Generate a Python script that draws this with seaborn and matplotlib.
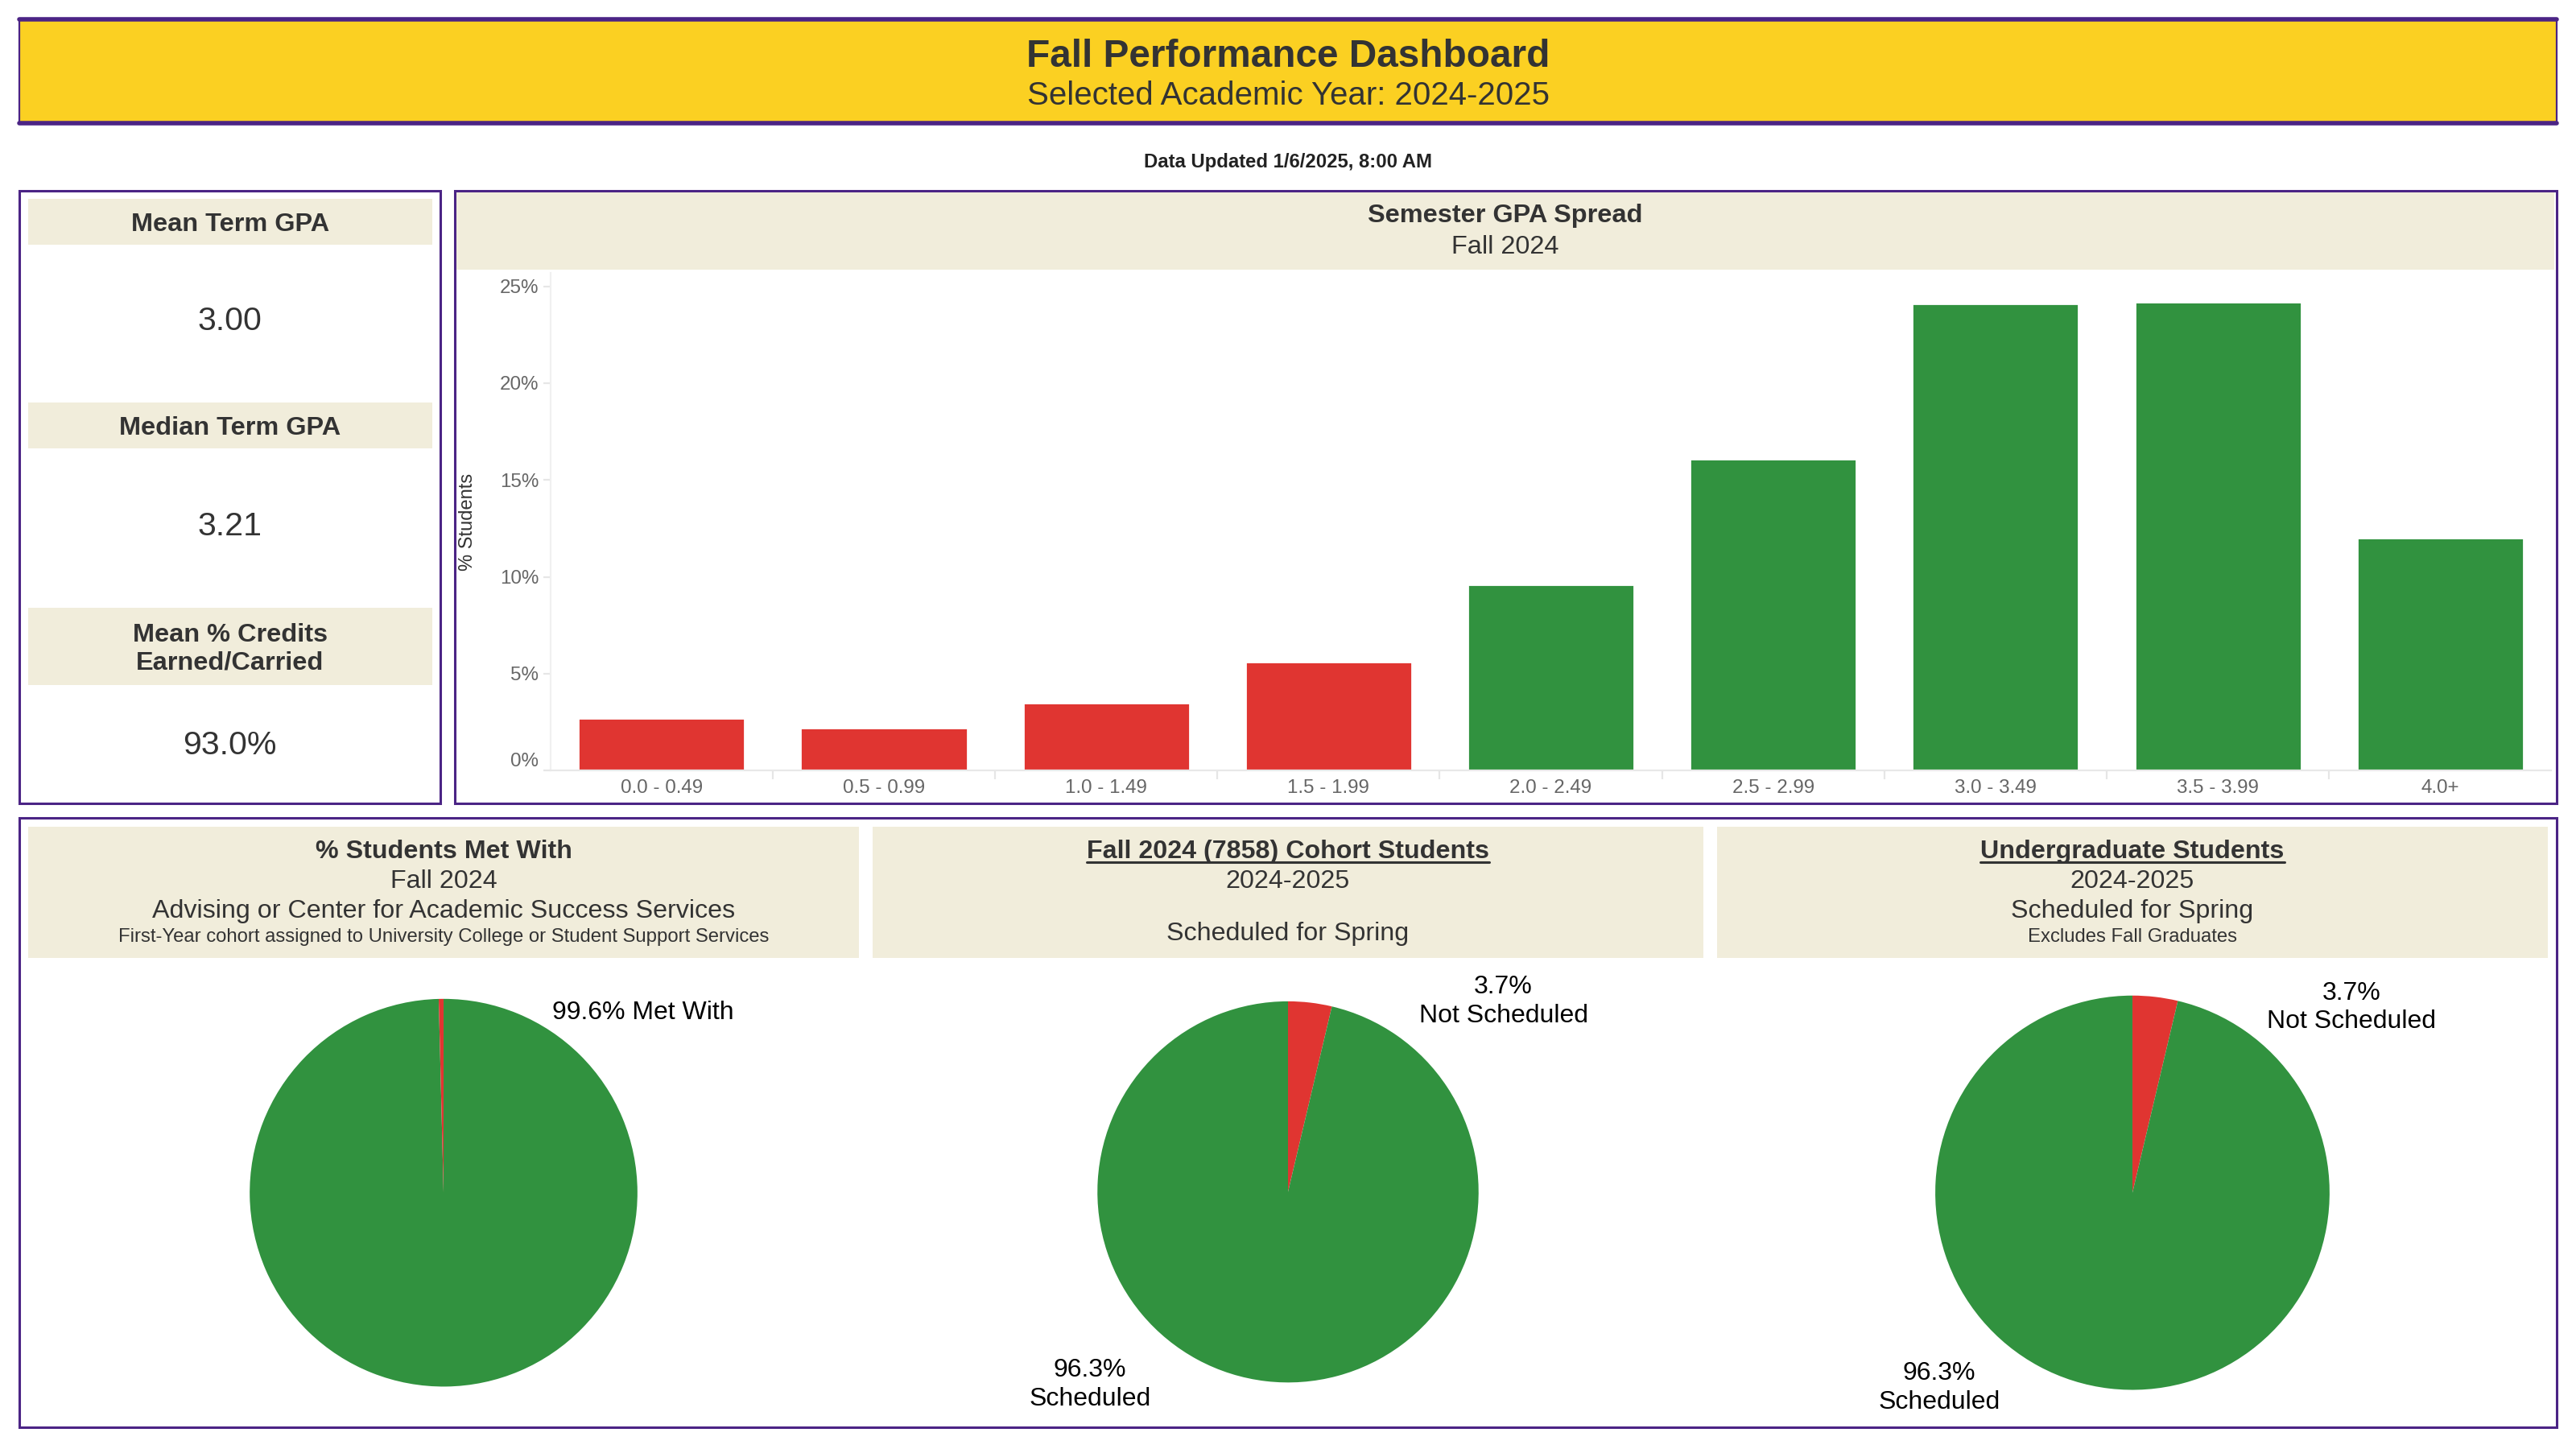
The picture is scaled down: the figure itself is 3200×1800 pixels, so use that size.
import numpy as np
import pandas as pd
import matplotlib
matplotlib.use("Agg")
import matplotlib.pyplot as plt
import seaborn as sns
from matplotlib.patches import Rectangle
from matplotlib.lines import Line2D

# --- data ---
gpa_ranges = ['0.0 - 0.49', '0.5 - 0.99', '1.0 - 1.49', '1.5 - 1.99', '2.0 - 2.49',
              '2.5 - 2.99', '3.0 - 3.49', '3.5 - 3.99', '4.0+']
pct_students = [2.7, 2.2, 3.5, 5.6, 9.6, 16.1, 24.1, 24.2, 12.0]
gpa_status = ['Below 2.0'] * 4 + ['2.0+'] * 5

kpi_labels = ['Mean Term GPA', 'Median Term GPA', 'Mean % Credits\nEarned/Carried']
kpi_values = ['3.00', '3.21', '93.0%']

met_with_pct = [99.6, 0.4]        # met with, not met with
cohort_sched_pct = [3.7, 96.3]    # not scheduled, scheduled
ugrad_sched_pct = [3.7, 96.3]     # not scheduled, scheduled

GREEN = '#31923F'
RED = '#E03531'
YELLOW = '#FBD022'
PURPLE = '#4B2485'
BEIGE = '#F1EDDB'
TXT = '#333333'
GRAY = '#666666'

sns.set_theme(style='white')
plt.rcParams['font.family'] = ['Liberation Sans', 'DejaVu Sans']

# layout is done in units of the reference at 1568 x 882
W, H = 1568, 882


def fig_rect(x0, y0, x1, y1):
    return [x0 / W, 1 - y1 / H, (x1 - x0) / W, (y1 - y0) / H]


fig = plt.figure(figsize=(16, 9), dpi=200)
fig.patch.set_facecolor('white')
bg = fig.add_axes([0, 0, 1, 1], zorder=0)
bg.set_xlim(0, W)
bg.set_ylim(H, 0)
bg.axis('off')


def box(x0, y0, x1, y1, fc='none', ec='none', lw=0):
    bg.add_patch(Rectangle((x0, y0), x1 - x0, y1 - y0, facecolor=fc,
                           edgecolor=ec, linewidth=lw))


def txt(x, y, s, size, bold=False, color=TXT, **kw):
    return bg.text(x, y + 1.5, s, fontsize=size, fontweight='bold' if bold else 'normal',
                   color=color, ha='center', va='center', **kw)


# header
box(12, 12, 1556, 75, fc=YELLOW, ec=PURPLE, lw=0.8)
bg.plot([12, 1556], [12, 12], color=PURPLE, lw=2)
bg.plot([12, 1556], [75, 75], color=PURPLE, lw=2)
txt(784, 33, 'Fall Performance Dashboard', 17.2, bold=True)
txt(784, 57, 'Selected Academic Year: 2024-2025', 14.5)
txt(784, 97, 'Data Updated 1/6/2025, 8:00 AM', 8.6, bold=True, color='#222222')

# KPI panel
box(12, 116, 268, 489, ec=PURPLE, lw=1.1)
bands = [(121, 149), (245, 273), (370, 417)]
value_y = [194, 319, 452]
for (b0, b1), lab, val, vy in zip(bands, kpi_labels, kpi_values, value_y):
    box(17, b0, 263, b1, fc=BEIGE)
    txt(140, (b0 + b1) / 2, lab, 11.7, bold=True, linespacing=1.2)
    txt(140, vy, val, 14.8)

# bar panel
box(277, 116, 1556, 489, ec=PURPLE, lw=1.1)
box(278, 117, 1555, 164, fc=BEIGE)
txt(916, 130, 'Semester GPA Spread', 11.7, bold=True)
txt(916, 149, 'Fall 2024', 11.7)

df = pd.DataFrame({'range': gpa_ranges, 'pct': pct_students, 'status': gpa_status})
ax = fig.add_axes(fig_rect(335, 166, 1553, 469), zorder=2)
ax.set_facecolor('none')
sns.barplot(data=df, x='range', y='pct', hue='status',
            palette={'Below 2.0': RED, '2.0+': GREEN}, dodge=False, width=0.75,
            saturation=1, legend=False, ax=ax)
ax.set_xlim(-0.5, len(gpa_ranges) - 0.5)
ax.set_ylim(0, 25.7)
ax.set_yticks([0, 5, 10, 15, 20, 25])
ax.set_yticklabels([f'{v}%' for v in [0, 5, 10, 15, 20, 25]])
ax.get_yticklabels()[0].set_verticalalignment('bottom')
ax.set_xticks(np.arange(0.5, len(gpa_ranges) - 0.5, 1), minor=True)
for side in ['top', 'right']:
    ax.spines[side].set_visible(False)
ax.spines['left'].set_color('#F0F0F0')
ax.spines['bottom'].set_color('#E8E8E8')
ax.spines['left'].set_linewidth(0.8)
ax.spines['bottom'].set_linewidth(0.8)
ax.tick_params(axis='y', length=3.2, width=0.8, color='#E6E6E6', labelsize=8.7,
               labelcolor=GRAY, pad=2, left=True)
ax.tick_params(axis='x', which='major', length=0, labelsize=8.7, labelcolor=GRAY, pad=4)
ax.tick_params(axis='x', which='minor', length=4, width=0.8, color='#E6E6E6', bottom=True)
ax.set_xlabel('')
ax.set_ylabel('% Students', fontsize=8.5, color=TXT)
ax.yaxis.set_label_coords(-0.037, 0.5)
ax.grid(False)

# bottom panel
box(12, 498, 1556, 869, ec=PURPLE, lw=1.1)
for x0, x1 in [(17, 523), (531, 1037), (1045, 1551)]:
    box(x0, 503, x1, 583, fc=BEIGE)

txt(270, 517, '% Students Met With', 11.6, bold=True)
txt(270, 535, 'Fall 2024', 11.6)
txt(270, 553, 'Advising or Center for Academic Success Services', 11.6)
txt(270, 569, 'First-Year cohort assigned to University College or Student Support Services', 8.6)

t2 = txt(784, 517, 'Fall 2024 (7858) Cohort Students', 11.6, bold=True)
txt(784, 535, '2024-2025', 11.6)
txt(784, 567, 'Scheduled for Spring', 11.6)

t3 = txt(1298, 517, 'Undergraduate Students', 11.6, bold=True)
txt(1298, 535, '2024-2025', 11.6)
txt(1298, 553, 'Scheduled for Spring', 11.6)
txt(1298, 569, 'Excludes Fall Graduates', 8.6)


def pie_axes(cx, cy, r, values, colors):
    pax = fig.add_axes(fig_rect(cx - r, cy - r, cx + r, cy + r), zorder=2)
    pax.pie(values, colors=colors, startangle=90, counterclock=False, radius=1,
            wedgeprops=dict(linewidth=0))
    pax.set_xlim(-1, 1)
    pax.set_ylim(-1, 1)
    pax.set_aspect('equal')
    pax.axis('off')
    return pax


lab_kw = dict(fontsize=11.5, color='black', ha='center', va='center',
              linespacing=1.25, clip_on=False)

p1 = pie_axes(270, 726, 118, met_with_pct, [GREEN, RED])
p1.text(1.03, 0.93, f'{met_with_pct[0]:.1f}% Met With', **lab_kw)

p2 = pie_axes(784, 725.5, 116, cohort_sched_pct, [RED, GREEN])
p2.text(1.13, 1.0, f'{cohort_sched_pct[0]:.1f}%\nNot Scheduled', **lab_kw)
p2.text(-1.04, -1.01, f'{cohort_sched_pct[1]:.1f}%\nScheduled', **lab_kw)

p3 = pie_axes(1298, 726, 120, ugrad_sched_pct, [RED, GREEN])
p3.text(1.11, 0.94, f'{ugrad_sched_pct[0]:.1f}%\nNot Scheduled', **lab_kw)
p3.text(-0.98, -0.99, f'{ugrad_sched_pct[1]:.1f}%\nScheduled', **lab_kw)

# underline the two linked titles
fig.canvas.draw()
renderer = fig.canvas.get_renderer()
inv = bg.transData.inverted()
for t in [t2, t3]:
    bb = t.get_window_extent(renderer)
    (x0, y0), (x1, y1) = inv.transform([[bb.x0, bb.y0], [bb.x1, bb.y1]])
    yl = max(y0, y1) - 1.0
    bg.add_line(Line2D([x0, x1], [yl, yl], color=TXT, lw=1.1))

fig.savefig('out.png', dpi=200)
